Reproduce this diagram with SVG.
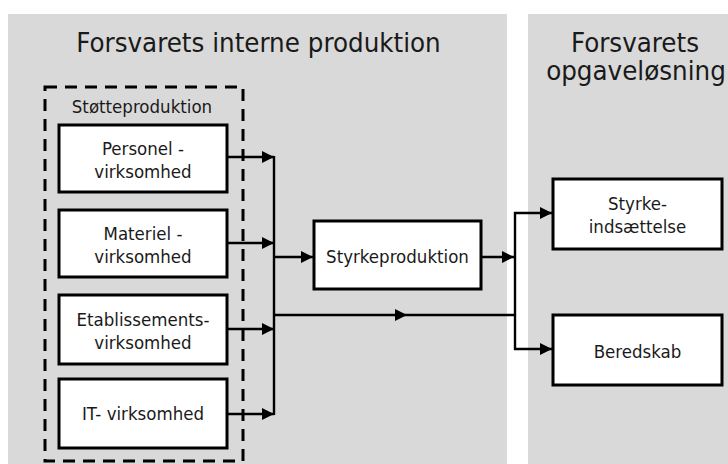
<svg xmlns="http://www.w3.org/2000/svg" width="728" height="464" viewBox="0 0 728 464">
<style>
.panel{fill:#d9d9d9;stroke:none}
.box{fill:#ffffff;stroke:#000;stroke-width:3}
.t{font-family:'DejaVu Sans Condensed','DejaVu Sans',sans-serif;font-stretch:condensed;font-size:18.5px;fill:#1a1a1a;text-anchor:middle}
.title{font-family:'DejaVu Sans Condensed','DejaVu Sans',sans-serif;font-stretch:condensed;font-size:27.4px;fill:#1a1a1a;text-anchor:middle}
.ln{fill:none;stroke:#000;stroke-width:2.4}
.dash{fill:none;stroke:#000;stroke-width:3;stroke-dasharray:12 8}
</style>
<defs>
<marker id="ah" markerUnits="userSpaceOnUse" markerWidth="13" markerHeight="13" refX="12" refY="6" orient="auto">
<path d="M0,0 L12,6 L0,12 z" fill="#000"/>
</marker>
</defs>
<rect class="panel" x="8" y="14" width="499" height="450"/>
<rect class="panel" x="528" y="14" width="200" height="450"/>
<text class="title" x="258.5" y="52">Forsvarets interne produktion</text>
<text class="title" x="635" y="52">Forsvarets</text>
<text class="title" x="636" y="80">opgaveløsning</text>
<g id="stotteproduktion">
<rect class="dash" x="45" y="87" width="198" height="374"/>
<text class="t" x="142" y="113" font-size="18">Støtteproduktion</text>
</g>
<g id="personel">
<rect class="box" x="59" y="125" width="168" height="67"/>
<text class="t" x="143" y="155">Personel -</text>
<text class="t" x="143" y="178">virksomhed</text>
</g>
<g id="materiel">
<rect class="box" x="59" y="210" width="168" height="67"/>
<text class="t" x="143" y="240">Materiel -</text>
<text class="t" x="143" y="263">virksomhed</text>
</g>
<g id="etablissements">
<rect class="box" x="59" y="295" width="168" height="69"/>
<text class="t" x="143" y="326">Etablissements-</text>
<text class="t" x="143" y="349">virksomhed</text>
</g>
<g id="it">
<rect class="box" x="59" y="379" width="168" height="69"/>
<text class="t" x="143" y="420">IT- virksomhed</text>
</g>
<g id="styrkeproduktion">
<rect class="box" x="314" y="221" width="167" height="68"/>
<text class="t" x="397.5" y="263">Styrkeproduktion</text>
</g>
<g id="styrkeindsaettelse">
<rect class="box" x="553" y="179" width="169" height="70"/>
<text class="t" x="637.5" y="210">Styrke-</text>
<text class="t" x="637.5" y="233">indsættelse</text>
</g>
<g id="beredskab">
<rect class="box" x="553" y="315" width="169" height="70"/>
<text class="t" x="637.5" y="358">Beredskab</text>
</g>
<g id="connectors">
<path class="ln" d="M227,157 L274,157" marker-end="url(#ah)"/>
<path class="ln" d="M227,243 L274,243" marker-end="url(#ah)"/>
<path class="ln" d="M227,329 L274,329" marker-end="url(#ah)"/>
<path class="ln" d="M227,414 L274,414" marker-end="url(#ah)"/>
<path class="ln" d="M274,156 L274,415"/>
<path class="ln" d="M274,257 L313,257" marker-end="url(#ah)"/>
<path class="ln" d="M274,315 L407,315" marker-end="url(#ah)"/>
<path class="ln" d="M407,315 L515,315"/>
<path class="ln" d="M481,257 L514,257" marker-end="url(#ah)"/>
<path class="ln" d="M515,212 L515,350"/>
<path class="ln" d="M514,213 L552,213" marker-end="url(#ah)"/>
<path class="ln" d="M514,349 L552,349" marker-end="url(#ah)"/>
</g>
</svg>
